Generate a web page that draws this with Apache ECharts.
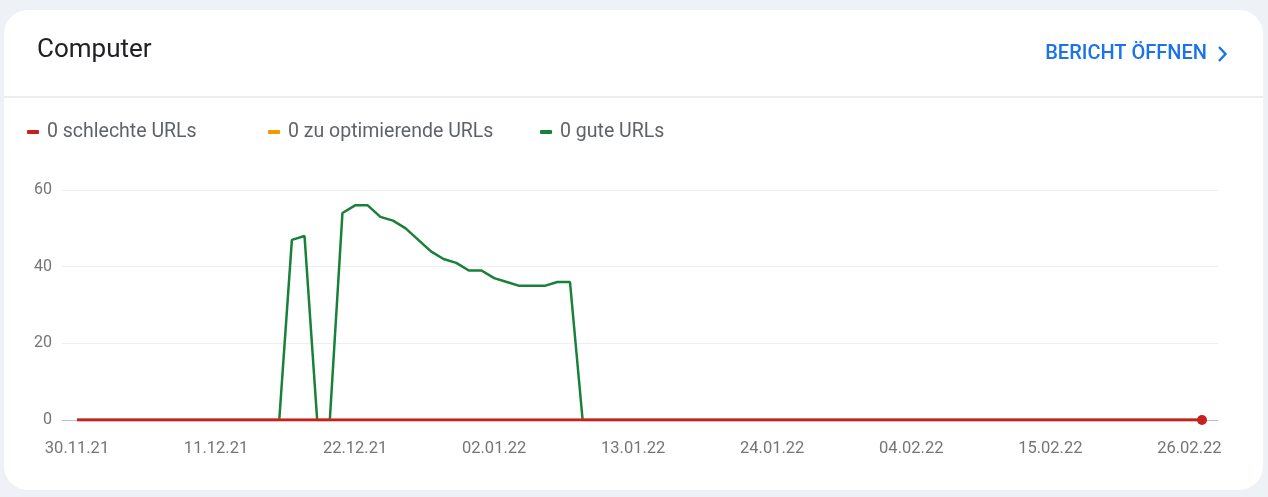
<!DOCTYPE html>
<html>
<head>
<meta charset="utf-8">
<script src="https://cdn.jsdelivr.net/npm/echarts@6/dist/echarts.min.js"></script>
<style>
  html, body { margin: 0; padding: 0; background: #eef1f6; }
  #chart { width: 1268px; height: 497px; }
</style>
</head>
<body>
<div id="chart"></div>
<script>
// tägliche Kategorien 30.11.21 – 27.02.22
var startDate = new Date(2021, 10, 30);
var dayCount = 90;
var dates = [];
for (var i = 0; i < dayCount; i++) {
  var d = new Date(startDate.getTime() + i * 86400000);
  var dd = ('0' + d.getDate()).slice(-2);
  var mm = ('0' + (d.getMonth() + 1)).slice(-2);
  var yy = String(d.getFullYear()).slice(-2);
  dates.push(dd + '.' + mm + '.' + yy);
}

var seriesNames = ['0 schlechte URLs', '0 zu optimierende URLs', '0 gute URLs'];

var badUrls = [
  0, 0, 0, 0, 0, 0, 0, 0, 0, 0,
  0, 0, 0, 0, 0, 0, 0, 0, 0, 0,
  0, 0, 0, 0, 0, 0, 0, 0, 0, 0,
  0, 0, 0, 0, 0, 0, 0, 0, 0, 0,
  0, 0, 0, 0, 0, 0, 0, 0, 0, 0,
  0, 0, 0, 0, 0, 0, 0, 0, 0, 0,
  0, 0, 0, 0, 0, 0, 0, 0, 0, 0,
  0, 0, 0, 0, 0, 0, 0, 0, 0, 0,
  0, 0, 0, 0, 0, 0, 0, 0, 0, 0
];

var mediumUrls = [
  0, 0, 0, 0, 0, 0, 0, 0, 0, 0,
  0, 0, 0, 0, 0, 0, 0, 0, 0, 0,
  0, 0, 0, 0, 0, 0, 0, 0, 0, 0,
  0, 0, 0, 0, 0, 0, 0, 0, 0, 0,
  0, 0, 0, 0, 0, 0, 0, 0, 0, 0,
  0, 0, 0, 0, 0, 0, 0, 0, 0, 0,
  0, 0, 0, 0, 0, 0, 0, 0, 0, 0,
  0, 0, 0, 0, 0, 0, 0, 0, 0, 0,
  0, 0, 0, 0, 0, 0, 0, 0, 0, 0
];

var goodUrls = [
  0, 0, 0, 0, 0, 0, 0, 0, 0, 0,
  0, 0, 0, 0, 0, 0, 0, 47, 48, 0,
  0, 54, 56, 56, 53, 52, 50, 47, 44, 42,
  41, 39, 39, 37, 36, 35, 35, 35, 36, 36,
  0, 0, 0, 0, 0, 0, 0, 0, 0, 0,
  0, 0, 0, 0, 0, 0, 0, 0, 0, 0,
  0, 0, 0, 0, 0, 0, 0, 0, 0, 0,
  0, 0, 0, 0, 0, 0, 0, 0, 0, 0,
  0, 0, 0, 0, 0, 0, 0, 0, 0, 0
];

var yTicks = [0, 20, 40, 60];

var colors = ['#c5221f', '#f29900', '#188038'];

var chart = echarts.init(document.getElementById('chart'));

// letzter Punkt der roten Linie bekommt einen Marker
var badData = badUrls.map(function (v, i) {
  if (i === badUrls.length - 1) {
    return { value: v, symbol: 'circle', symbolSize: 10 };
  }
  return v;
});

function legendFor(name, left) {
  return {
    data: [name],
    left: left,
    top: 122,
    padding: 0,
    icon: 'roundRect',
    itemWidth: 12,
    itemHeight: 4,
    itemGap: 0,
    selectedMode: false,
    textStyle: { color: '#5f6368', fontSize: 19.5, fontFamily: 'Roboto', padding: [0, 0, 0, 3] }
  };
}

var option = {
  backgroundColor: 'transparent',
  color: colors,
  animation: false,
  graphic: [{
    // Karte
    type: 'rect',
    z: -10,
    shape: { x: 4, y: 10, width: 1259, height: 480, r: 24 },
    style: { fill: '#ffffff' }
  }, {
    type: 'line',
    z: -5,
    shape: { x1: 4, y1: 97, x2: 1263, y2: 97 },
    style: { stroke: '#dadce0', lineWidth: 1 }
  }, {
    type: 'text',
    left: 37,
    top: 37,
    style: {
      text: 'Computer',
      fill: '#202124',
      fontSize: 26,
      fontFamily: 'Roboto'
    }
  }, {
    type: 'text',
    right: 61,
    top: 44,
    style: {
      text: 'BERICHT ÖFFNEN',
      fill: '#1a73e8',
      fontSize: 20,
      fontWeight: 500,
      fontFamily: 'Roboto'
    }
  }, {
    type: 'polyline',
    shape: { points: [[1219, 47], [1225.5, 54], [1219, 61]] },
    style: { stroke: '#1a73e8', lineWidth: 2.4, fill: null }
  }],
  legend: [
    legendFor(seriesNames[0], 27),
    legendFor(seriesNames[1], 268),
    legendFor(seriesNames[2], 540)
  ],
  grid: [
    { left: 62, right: 50, top: 190, bottom: 77 },
    { left: 77, right: 66, top: 190, bottom: 77 }
  ],
  xAxis: [{
    gridIndex: 0,
    type: 'value',
    min: 0,
    max: 1,
    show: true,
    axisLine: { show: true, lineStyle: { color: '#bdc1c6', width: 1 } },
    axisTick: { show: false },
    axisLabel: { show: false },
    splitLine: { show: false }
  }, {
    gridIndex: 1,
    type: 'category',
    data: dates,
    boundaryGap: false,
    axisLine: { show: false },
    axisTick: { show: false },
    axisLabel: {
      interval: 10,
      color: '#757575',
      fontSize: 16.5,
      fontFamily: 'Roboto',
      margin: 20
    }
  }],
  yAxis: [{
    gridIndex: 0,
    type: 'value',
    min: yTicks[0],
    max: yTicks[yTicks.length - 1],
    interval: 20,
    axisLine: { show: false },
    axisTick: { show: false },
    axisLabel: { color: '#757575', fontSize: 16, fontFamily: 'Roboto', margin: 10 },
    splitLine: { lineStyle: { color: '#eeeeee', width: 1 } }
  }, {
    gridIndex: 1,
    type: 'value',
    min: yTicks[0],
    max: yTicks[yTicks.length - 1],
    show: false
  }],
  series: [{
    name: seriesNames[2],
    type: 'line',
    xAxisIndex: 1,
    yAxisIndex: 1,
    data: goodUrls,
    symbol: 'none',
    itemStyle: { color: colors[2] },
    lineStyle: { width: 2.5, color: colors[2] },
    z: 3
  }, {
    name: seriesNames[1],
    type: 'line',
    xAxisIndex: 1,
    yAxisIndex: 1,
    data: mediumUrls,
    symbol: 'none',
    itemStyle: { color: colors[1] },
    lineStyle: { width: 2.5, color: colors[1] },
    z: 4
  }, {
    name: seriesNames[0],
    type: 'line',
    xAxisIndex: 1,
    yAxisIndex: 1,
    data: badData,
    symbol: 'none',
    showAllSymbol: true,
    itemStyle: { color: colors[0] },
    lineStyle: { width: 3, color: colors[0] },
    z: 5
  }]
};

chart.setOption(option);
</script>
</body>
</html>
